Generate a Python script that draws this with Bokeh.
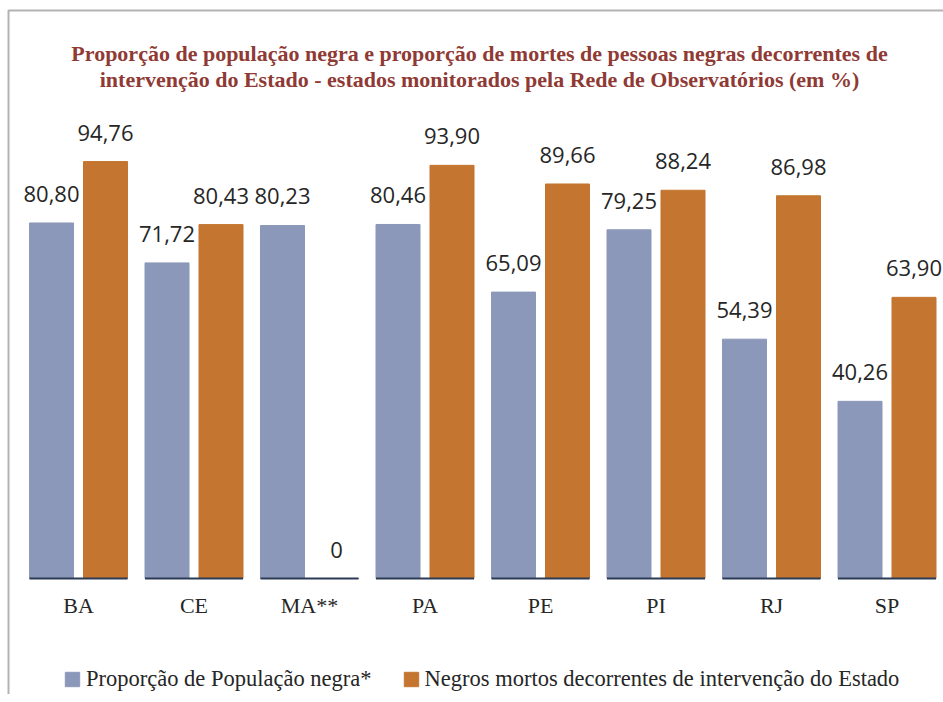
import numpy as np
from bokeh.plotting import figure
from bokeh.models import ColumnDataSource, Range1d, BoxAnnotation, Legend, LegendItem
from bokeh.core.properties import value
from bokeh.embed import file_html
from bokeh.resources import INLINE

# ---- data ----
states = ["BA", "CE", "MA**", "PA", "PE", "PI", "RJ", "SP"]
pop_negra = [80.80, 71.72, 80.23, 80.46, 65.09, 79.25, 54.39, 40.26]
mortos_negros = [94.76, 80.43, 0, 93.90, 89.66, 88.24, 86.98, 63.90]
series_names = ["Proporção de População negra*",
                "Negros mortos decorrentes de intervenção do Estado"]
title_lines = ["Proporção de população negra e proporção de mortes de pessoas negras decorrentes de",
               "intervenção do Estado - estados monitorados pela Rede de Observatórios (em %)"]

BLUE = "#8c98b9"
ORANGE = "#c47530"
NAVY = "#2b3a55"
TITLE_RED = "#8f3a34"
TEXT = "#262626"

W, H = 943, 694
step = 115.5          # px per category
left0 = 78            # px of first category center
base_px = 578         # px of value 0 from top
ppu = 4.40            # px per unit

def fmt(v):
    return "0" if v == 0 else f"{v:.2f}".replace(".", ",")

def px_x(px):
    return (px - left0) / step

def px_y(px):
    return (base_px - px) / ppu

idx = np.arange(len(states))
off = 27 / step
bw = 44 / step
half = 49 / step

src_b = ColumnDataSource(dict(x=idx - off, top=pop_negra, lab=[fmt(v) for v in pop_negra]))
src_o = ColumnDataSource(dict(x=idx + off, top=mortos_negros, lab=[fmt(v) for v in mortos_negros]))
src_c = ColumnDataSource(dict(x=idx, x0=idx - half, x1=idx + half, y=[0] * len(states), lab=states))

x_end = px_x(W)
y_start = px_y(H)
p = figure(width=W, height=H, output_backend="svg", toolbar_location=None,
           x_range=Range1d(px_x(0), x_end),
           y_range=Range1d(y_start, px_y(0)),
           min_border=0, min_border_left=0, min_border_right=0,
           min_border_top=0, min_border_bottom=0)
p.xaxis.visible = False
p.yaxis.visible = False
p.grid.visible = False
p.outline_line_color = None
p.background_fill_color = "white"
p.border_fill_color = "white"

rb = p.vbar(x="x", top="top", width=bw, bottom=0, source=src_b, color=BLUE)
ro = p.vbar(x="x", top="top", width=bw, bottom=0, source=src_o, color=ORANGE)
p.segment(x0="x0", x1="x1", y0="y", y1="y", source=src_c, line_color=NAVY, line_width=2)

for s in (src_b, src_o):
    p.text(x="x", y="top", text="lab", source=s, text_align="center",
           text_baseline="alphabetic", y_offset=-29, text_font=value("Open Sans"),
           text_font_size="22px", text_color=TEXT)

p.text(x="x", y="y", text="lab", source=src_c, text_align="center",
       text_baseline="alphabetic", y_offset=27, text_font=value("Liberation Serif"),
       text_font_size="22px", text_color=TEXT)

# title
tsrc = ColumnDataSource(dict(x=[px_x(479)] * 2, y=[px_y(53), px_y(79)], t=title_lines))
p.text(x="x", y="y", text="t", source=tsrc, text_align="center", text_baseline="alphabetic",
       text_font=value("Liberation Serif"), text_font_style="bold",
       text_font_size="22px", text_color=TITLE_RED)

# frame lines (left & top)
p.add_layout(BoxAnnotation(left=px_x(8), top=px_y(10), right=x_end + 1, bottom=y_start - 1,
                           fill_alpha=0, line_color="black", line_width=2))

legend = Legend(items=[LegendItem(label=series_names[0], renderers=[rb]),
                       LegendItem(label=series_names[1], renderers=[ro])],
                orientation="horizontal", location=(63, 2),
                glyph_width=18, glyph_height=18, label_standoff=5, spacing=30,
                padding=0, margin=0, border_line_color=None, background_fill_alpha=0,
                label_text_font="Liberation Serif", label_text_font_size="22.5px",
                label_text_color=TEXT, label_height=18)
p.add_layout(legend, "center")

open("out.html", "w").write(file_html(p, INLINE))
